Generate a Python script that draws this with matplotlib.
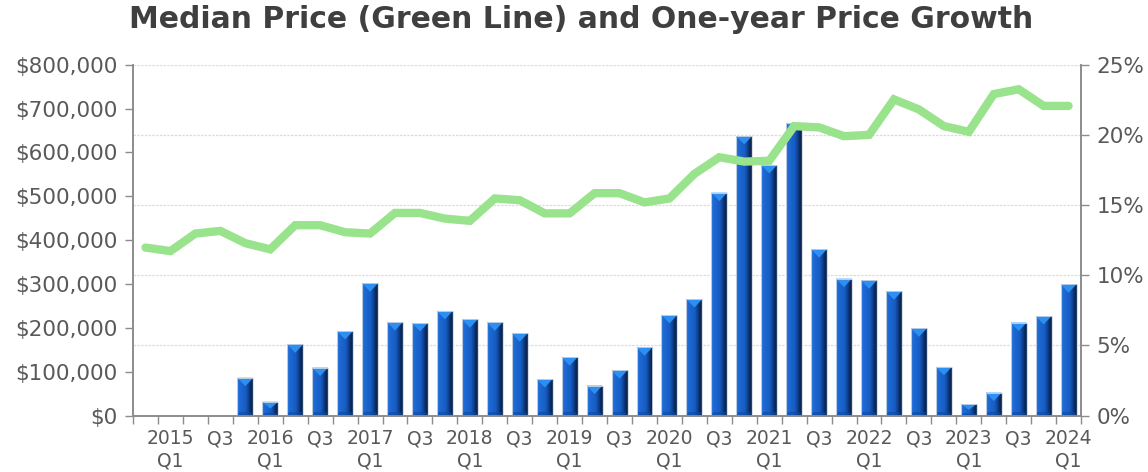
import matplotlib
matplotlib.use("Agg")
import matplotlib.pyplot as plt
import numpy as np
from matplotlib.colors import LinearSegmentedColormap
from matplotlib.patches import Polygon
from matplotlib.ticker import FuncFormatter, FixedLocator, NullFormatter

# Quarterly series, 2014 Q4 through 2024 Q1
quarters = [
    "2014 Q4",
    "2015 Q1", "2015 Q2", "2015 Q3", "2015 Q4",
    "2016 Q1", "2016 Q2", "2016 Q3", "2016 Q4",
    "2017 Q1", "2017 Q2", "2017 Q3", "2017 Q4",
    "2018 Q1", "2018 Q2", "2018 Q3", "2018 Q4",
    "2019 Q1", "2019 Q2", "2019 Q3", "2019 Q4",
    "2020 Q1", "2020 Q2", "2020 Q3", "2020 Q4",
    "2021 Q1", "2021 Q2", "2021 Q3", "2021 Q4",
    "2022 Q1", "2022 Q2", "2022 Q3", "2022 Q4",
    "2023 Q1", "2023 Q2", "2023 Q3", "2023 Q4",
    "2024 Q1",
]

# Median price (USD)
median_price = [
    383000, 375000, 415000, 421000, 393000, 379000, 434000, 434000,
    418000, 415000, 462000, 462000, 449000, 444000, 495000, 491000,
    461000, 461000, 507000, 507000, 486000, 495000, 551000, 589000,
    579000, 581000, 660000, 657000, 637000, 640000, 721000, 698000,
    660000, 647000, 733000, 744000, 706000, 706000,
]

# One-year price growth (%), no figure for the first four quarters
price_growth = [
    np.nan, np.nan, np.nan, np.nan,
    2.69, 0.98, 5.07, 3.41, 6.02, 9.42, 6.66, 6.59,
    7.45, 6.85, 6.64, 5.86, 2.60, 4.15, 2.13, 3.22,
    4.86, 7.16, 8.30, 15.88, 19.92, 17.85, 20.83, 11.85,
    9.75, 9.63, 8.85, 6.21, 3.46, 0.82, 1.63, 6.62,
    7.09, 9.35,
]

# Axis labels shown every other quarter
tick_labels = [
    "2015\nQ1", "Q3", "2016\nQ1", "Q3", "2017\nQ1", "Q3", "2018\nQ1", "Q3",
    "2019\nQ1", "Q3", "2020\nQ1", "Q3", "2021\nQ1", "Q3", "2022\nQ1", "Q3",
    "2023\nQ1", "Q3", "2024\nQ1",
]

TEXT = "#595959"
SPINE = "#8c8c8c"
LINE_GREEN = "#98e38c"

plt.rcParams["font.family"] = ["DejaVu Sans"]

fig = plt.figure(figsize=(11.48, 4.72), dpi=100)
ax = fig.add_axes([0.1159, 0.1197, 0.8258, 0.7432])   # price axis (left)
ax2 = ax.twinx()                                       # growth axis (right)

n = len(quarters)
x = np.arange(n)

# ---- bars with a bevelled, cylinder-like shading ----
bar_cmap = LinearSegmentedColormap.from_list(
    "bevel",
    [(0.0, "#4a92ec"), (0.10, "#1f6cd6"), (0.55, "#165cc4"),
     (0.78, "#0d3a80"), (0.92, "#071f47"), (1.0, "#33557f")],
)
grad = np.linspace(0, 1, 64).reshape(1, -1)
bw = 0.64
for xi, v in zip(x, price_growth):
    if np.isnan(v):
        continue
    x0, x1 = xi - bw / 2, xi + bw / 2
    ax2.imshow(grad, cmap=bar_cmap, aspect="auto", extent=[x0, x1, 0, v],
               zorder=2, interpolation="bilinear")
    d = min(0.6, v * 0.5)
    ax2.add_patch(Polygon([(x0, v), (x1, v), (xi, v - d)], closed=True,
                          facecolor="#2e8ff2", edgecolor="none", zorder=3))
    db = min(0.25, v * 0.2)
    ax2.add_patch(Polygon([(x0, 0), (x1, 0), (x1 - 0.08, db), (x0 + 0.08, db)],
                          closed=True, facecolor="#0f4aa0", edgecolor="none",
                          alpha=0.6, zorder=3))
    ax2.add_patch(plt.Rectangle((x0, 0), bw, v, fill=False,
                                edgecolor="#d0d8e2", lw=0.6, zorder=4))

# ---- median price line ----
ax.plot(x, median_price, color=LINE_GREEN, lw=6, solid_joinstyle="miter",
        solid_capstyle="round", zorder=5)

# draw the price line above the bars
ax.set_zorder(ax2.get_zorder() + 1)
ax.patch.set_visible(False)

# ---- scales ----
ax.set_xlim(-0.5, n - 0.5)
ax2.set_xlim(-0.5, n - 0.5)
ax.set_ylim(0, 800000)
ax2.set_ylim(0, 25)

ax.set_yticks(np.arange(0, 800001, 100000))
ax.yaxis.set_major_formatter(FuncFormatter(lambda v, p: f"${v:,.0f}"))
ax2.set_yticks(np.arange(0, 26, 5))
ax2.yaxis.set_major_formatter(FuncFormatter(lambda v, p: f"{v:.0f}%"))

# category boundaries carry the ticks, labels sit on every other quarter
ax.xaxis.set_major_locator(FixedLocator(np.arange(-0.5, n, 1.0)))
ax.xaxis.set_major_formatter(NullFormatter())
ax.xaxis.set_minor_locator(FixedLocator(np.arange(1, n, 2)))
ax.set_xticklabels(tick_labels, minor=True)
ax.tick_params(axis="x", which="major", length=6, width=1, color=SPINE,
               direction="out")
ax.tick_params(axis="x", which="minor", length=0, pad=10, labelsize=13.5,
               labelcolor=TEXT)
ax2.tick_params(axis="x", which="both", length=0, labelbottom=False)

ax.tick_params(axis="y", length=6, width=1, color=SPINE, labelsize=15.5,
               labelcolor=TEXT, pad=5)
ax2.tick_params(axis="y", length=6, width=1, color=SPINE, labelsize=15.5,
                labelcolor=TEXT, pad=5)

for a in (ax, ax2):
    a.spines["top"].set_visible(False)
    for s in ("left", "right", "bottom"):
        a.spines[s].set_color(SPINE)
        a.spines[s].set_linewidth(1.2)

ax2.set_axisbelow(True)
ax2.grid(axis="y", color="#dcdcdc", lw=0.9, ls=(0, (2, 1)))
ax.grid(False)

fig.suptitle("Median Price (Green Line) and One-year Price Growth",
             x=0.506, y=0.99, fontsize=21.5, fontweight="bold", color="#3f3f3f",
             va="top")

fig.savefig("out.png", dpi=100)
